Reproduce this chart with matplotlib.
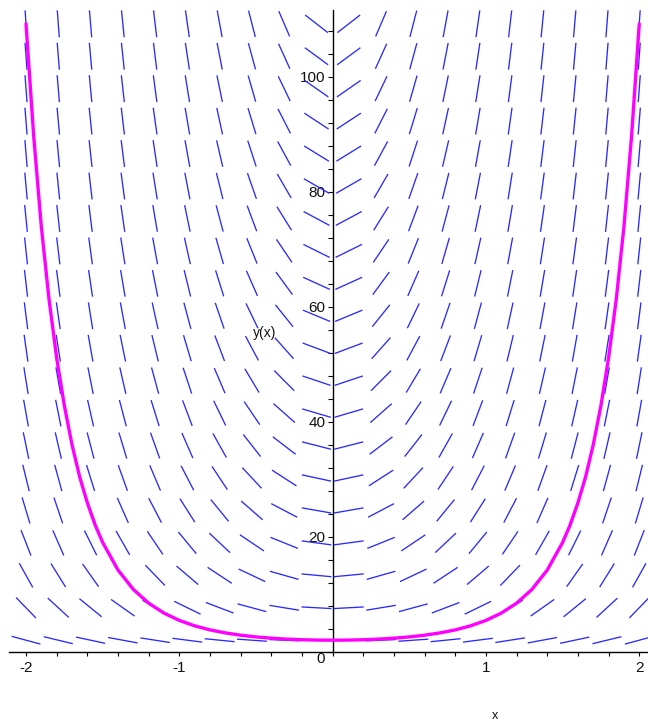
import numpy as np
import matplotlib
matplotlib.use("Agg")
import matplotlib.pyplot as plt
from matplotlib.collections import LineCollection
from matplotlib.ticker import MultipleLocator, FixedLocator

# ---- data ----
# ODE y' = ode_coef * x * y  (direction field)
ode_coef = 2.0
grid_x = np.linspace(-2.0, 2.0, 20)
grid_y = np.linspace(2.0, 109.2, 20)

# solution curve, y(0)=2
curve_x = [-2.0, -1.95, -1.9, -1.85, -1.8, -1.75, -1.7, -1.65, -1.6, -1.55, -1.5,
           -1.4, -1.3, -1.2, -1.1, -1.0, -0.9, -0.8, -0.7, -0.6, -0.5, -0.4,
           -0.3, -0.2, -0.1, 0.0, 0.1, 0.2, 0.3, 0.4, 0.5, 0.6, 0.7, 0.8, 0.9,
           1.0, 1.1, 1.2, 1.3, 1.4, 1.5, 1.55, 1.6, 1.65, 1.7, 1.75, 1.8, 1.85,
           1.9, 1.95, 2.0]
curve_y = [109.2, 89.7, 73.9, 61.3, 51.1, 42.8, 36.0, 30.4, 25.9, 22.1, 19.0,
           14.2, 10.83, 8.44, 6.71, 5.44, 4.50, 3.79, 3.27, 2.87, 2.57, 2.35,
           2.19, 2.08, 2.02, 2.0, 2.02, 2.08, 2.19, 2.35, 2.57, 2.87, 3.27, 3.79, 4.50,
           5.44, 6.71, 8.44, 10.83, 14.2, 19.0, 22.1, 25.9, 30.4, 36.0, 42.8, 51.1, 61.3,
           73.9, 89.7, 109.2]

x_ticks = [-2, -1, 1, 2]
y_ticks = [20, 40, 60, 80, 100]

# ---- figure ----
W, H = 648, 721
fig = plt.figure(figsize=(W / 100, H / 100), dpi=100)
ax = fig.add_axes([9.3 / W, (H - 651.7) / H, 638.7 / W, 641.7 / H])
xlim = (-2.109, 2.057)
ylim = (0.0, 111.6)
ax.set_xlim(*xlim)
ax.set_ylim(*ylim)

font = "Liberation Sans"

# pixel scales
px_x = 638.7 / (xlim[1] - xlim[0])
px_y = 641.7 / (ylim[1] - ylim[0])

GX, GY = np.meshgrid(grid_x, grid_y)
S = ode_coef * GX * GY
dxp = np.ones_like(S) * px_x
dyp = S * px_y
norm = np.hypot(dxp, dyp)
ux, uy = dxp / norm, dyp / norm
hx = 15.0 * ux / px_x
hy = 13.5 * uy / px_y
segs = [[(x - a, y - b), (x + a, y + b)]
        for x, y, a, b in zip(GX.ravel(), GY.ravel(), hx.ravel(), hy.ravel())]
lc = LineCollection(segs, colors="#2a2aff", linewidths=0.95, clip_on=False, zorder=2)
ax.add_collection(lc)

ax.plot(curve_x, curve_y, color="#ff00ff", lw=2.4, zorder=3, solid_capstyle="round")

# axes styling
for s in ["top", "right"]:
    ax.spines[s].set_visible(False)
ax.spines["left"].set_position(("data", 0))
ax.spines["bottom"].set_position(("data", 0))
ax.spines["left"].set_linewidth(1.0)
ax.spines["bottom"].set_linewidth(1.0)
ax.spines["left"].set_zorder(1)

ax.xaxis.set_major_locator(FixedLocator(x_ticks))
ax.xaxis.set_minor_locator(MultipleLocator(0.2))
ax.yaxis.set_major_locator(FixedLocator(y_ticks))
ax.yaxis.set_minor_locator(MultipleLocator(4))
ax.set_xticklabels([str(t) for t in x_ticks])
ax.set_yticklabels([str(t) for t in y_ticks])
ax.tick_params(axis="x", which="both", direction="out", length=3, width=0.8, pad=4)
ax.tick_params(axis="y", which="both", direction="out", length=3.5, width=0.8, pad=1.5)
for lab in ax.get_xticklabels() + ax.get_yticklabels():
    lab.set_fontfamily(font)
    lab.set_fontsize(11)
    lab.set_color("#111111")

ax.annotate("0", xy=(0, 0), xytext=(-5.5, -0.5), textcoords="offset points",
            ha="right", va="top", fontsize=11, fontfamily=font, color="#111111")

ax.text(264.7 / W, (H - 333) / H, "y(x)", transform=fig.transFigure, ha="center",
        va="center", fontsize=10, fontfamily=font, color="#111111")
ax.text(495 / W, (H - 716) / H, "x", transform=fig.transFigure, ha="center",
        va="center", fontsize=9, fontfamily=font, color="#111111")

fig.savefig("out.png", dpi=100, facecolor="white")
